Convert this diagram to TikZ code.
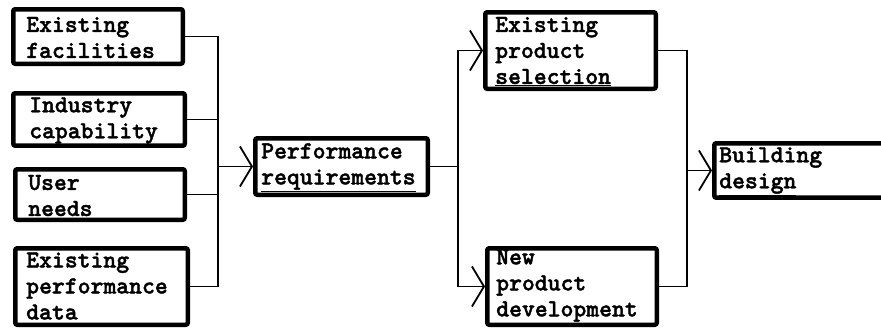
\documentclass[tikz,border=0pt]{standalone}
\usepackage{fontspec}
\usetikzlibrary{arrows.meta}
\newfontfamily\typer[FakeBold=1.6]{lmmonolt10-bold.otf}

\begin{document}
\begin{tikzpicture}[x=1pt,y=-1pt,
    blk/.style={draw, line width=4.5pt, rounded corners=2pt, anchor=north west,
        align=left, inner ysep=2pt, text height=17pt,
        font=\typer\fontsize{24.5}{26}\selectfont},
    wire/.style={line width=1.8pt},
    arr/.style={wire, -{Straight Barb[length=12pt,width=40pt,line width=1.8pt]}}]
    \useasboundingbox (0,0) rectangle (881,327);
    \clip (0,0) rectangle (881,327);
    % inputs
    \node[blk, inner xsep=13pt, text width=143.5pt, minimum height=54.5pt] (fac) at (11,7) {Existing\\facilities};
    \node[blk, inner xsep=16pt, text width=139.5pt, minimum height=51.5pt] (ind) at (11,91) {Industry\\capability};
    \node[blk, inner xsep=13pt, text width=143.5pt, minimum height=50.5pt] (usr) at (13,167) {User\\needs};
    \node[blk, inner xsep=11pt, text width=150.5pt, minimum height=76.5pt, text height=14pt] (epd) at (13,246) {Existing\\performance\\data};
    % middle
    \node[blk, inner xsep=6pt, text width=160.5pt, minimum height=56.5pt] (per) at (253,136) {Performance\\\underline{requirements}};
    \node[blk, inner xsep=10pt, text width=150.5pt, minimum height=76.5pt] (eps) at (483,10) {Existing\\product\\\underline{selection}};
    \node[blk, inner xsep=9pt, text width=151.5pt, minimum height=76.5pt, text height=13pt] (npd) at (485,246) {New\\product\\development};
    \node[blk, inner xsep=5pt, text width=185.5pt, minimum height=51.5pt] (bld) at (712,141) {Building\\\underline{design}};
    % junctions
    \coordinate (jL) at ([xshift=-35pt]per.west);
    \coordinate (jM) at ([xshift=28pt]per.east);
    \coordinate (jR) at ([xshift=-25pt]bld.west);
    % connectors
    \draw[wire] (fac.east) -| (jL);
    \draw[wire] (ind.east) -| (jL);
    \draw[wire] (usr.east) -| (jL);
    \draw[wire] (epd.east) -| (jL);
    \draw[arr] (jL) -- (per.west);
    \draw[wire] (per.east) -- (jM);
    \draw[arr] (jM) |- (eps.west);
    \draw[arr] (jM) |- (npd.west);
    \draw[wire] (eps.east) -| (jR);
    \draw[wire] (npd.east) -| (jR);
    \draw[arr] (jR) -- (bld.west);
\end{tikzpicture}
\end{document}
